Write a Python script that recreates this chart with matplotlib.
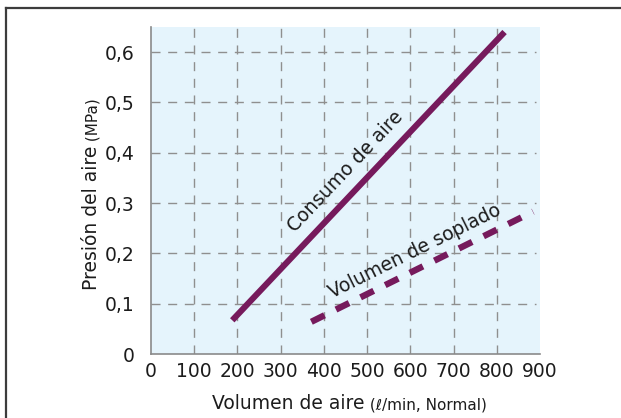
"""Presión del aire vs volumen de aire: consumo y soplado."""

import matplotlib

matplotlib.use("Agg")

import matplotlib.pyplot as plt
import numpy as np
from matplotlib.lines import Line2D

# data
x_ticks = [0, 100, 200, 300, 400, 500, 600, 700, 800, 900]
y_ticks = [0, 0.1, 0.2, 0.3, 0.4, 0.5, 0.6]
y_tick_labels = ["0", "0,1", "0,2", "0,3", "0,4", "0,5", "0,6"]

consumo_x = [188, 818]
consumo_y = [0.067, 0.640]
soplado_x = [371, 884]
soplado_y = [0.064, 0.283]

PURPLE = "#761a5c"
TEXT = "#1c1c1c"
W, H = 621, 418


def _fig_xy(px, py):
    # pixel position (top-left origin) -> figure fraction
    return px / W, 1 - py / H


def _data_angle(xs, ys):
    return float(np.degrees(np.arctan2(ys[1] - ys[0], xs[1] - xs[0])))


def main() -> int:
    fig = plt.figure(figsize=(W / 100, H / 100), dpi=100)
    left, bottom = _fig_xy(151, 354)
    right, top = _fig_xy(540, 27)
    ax = fig.add_axes([left, bottom, right - left, top - bottom])
    ax.set_facecolor("#e5f4fc")

    ax.set_xlim(0, 900)
    ax.set_ylim(0, 0.65)
    ax.set_xticks(x_ticks)
    ax.set_yticks(y_ticks)
    ax.set_yticklabels(y_tick_labels)
    ax.tick_params(axis="both", length=0, labelsize=13.5, labelcolor=TEXT)
    ax.tick_params(axis="x", pad=6)
    ax.tick_params(axis="y", pad=12)

    for side in ("top", "right"):
        ax.spines[side].set_visible(False)
    for side in ("left", "bottom"):
        ax.spines[side].set_color("#8a8a8a")
        ax.spines[side].set_linewidth(1.2)

    grid_style = dict(color="#8f8f8f", linewidth=1.0, linestyle=(0, (6.5, 5.5)), zorder=1)
    for xv in x_ticks[1:-1]:
        ax.axvline(xv, **grid_style)
    for yv in y_ticks[1:]:
        ax.axhline(yv, xmax=0.99, **grid_style)

    ax.plot(consumo_x, consumo_y, color=PURPLE, linewidth=4.4,
            solid_capstyle="butt", zorder=3)
    ax.plot(soplado_x, soplado_y, color=PURPLE, linewidth=4.6,
            linestyle=(0, (2.3, 2.0)), dash_capstyle="butt", zorder=3)

    ax.text(450, 0.362, "Consumo de aire", fontsize=13.5, color=TEXT,
            rotation=_data_angle(consumo_x, consumo_y), transform_rotates_text=True,
            rotation_mode="anchor", ha="center", va="center", zorder=4)
    ax.text(610, 0.205, "Volumen de soplado", fontsize=13.5, color=TEXT,
            rotation=_data_angle(soplado_x, soplado_y), transform_rotates_text=True,
            rotation_mode="anchor", ha="center", va="center", zorder=4)

    # axis titles with a smaller unit part
    jx, jy = _fig_xy(365, 409)
    fig.text(jx, jy, "Volumen de aire", fontsize=13.5, color=TEXT,
             ha="right", va="baseline")
    fig.text(jx, jy, " (ℓ/min, Normal)", fontsize=11, color=TEXT,
             ha="left", va="baseline")

    jx, jy = _fig_xy(97, 146)
    fig.text(jx, jy, "Presión del aire", fontsize=13.5, color=TEXT, rotation=90,
             rotation_mode="anchor", ha="right", va="baseline")
    fig.text(jx, jy, " (MPa)", fontsize=11, color=TEXT, rotation=90,
             rotation_mode="anchor", ha="left", va="baseline")

    # frame around the figure (only top and left visible in the crop)
    fx, fy = _fig_xy(5.5, 7.5)
    fig.add_artist(Line2D([fx, 1.01], [fy, fy], color="#3c3c3c", linewidth=1.6))
    fig.add_artist(Line2D([fx, fx], [-0.01, fy], color="#3c3c3c", linewidth=1.6))

    fig.savefig("out.png", dpi=100)
    plt.close(fig)
    return 0


if __name__ == "__main__":
    raise SystemExit(main())
